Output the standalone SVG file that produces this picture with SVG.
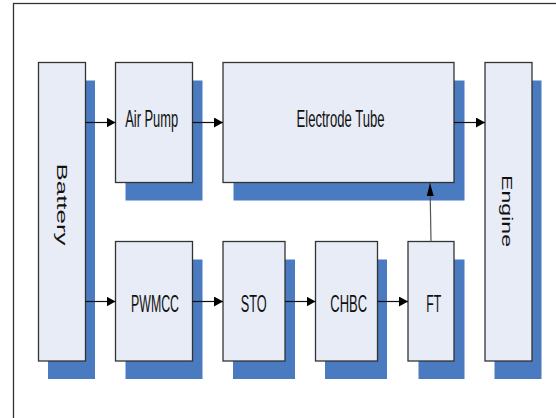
<svg xmlns="http://www.w3.org/2000/svg" width="556" height="418" viewBox="0 0 556 418">
<style>
.box{fill:#E7ECF6;stroke:#333;stroke-width:1.3}
.sh{fill:#4A7AC0}
.lbl{font-family:"Liberation Sans",Arial,sans-serif;font-size:24px;fill:#111;text-anchor:middle}
.vl{font-family:"Liberation Sans",Arial,sans-serif;font-size:14px;fill:#111;text-anchor:middle}
.ar{stroke:#111;stroke-width:1.2;fill:none;marker-end:url(#ah)}
</style>
<defs>
<marker id="ah" markerUnits="userSpaceOnUse" markerWidth="9" markerHeight="10" viewBox="0 0 9 10" refX="9" refY="5" orient="auto"><path d="M0,0 L9,5 L0,10 z" fill="#000"/></marker>
<marker id="ah2" markerUnits="userSpaceOnUse" markerWidth="13" markerHeight="8" viewBox="0 0 13 8" refX="13" refY="4" orient="auto"><path d="M0,0.5 L13,4 L0,7.5 z" fill="#000"/></marker>
</defs>
<rect x="13.5" y="3.5" width="600" height="500" fill="#fff" stroke="#333" stroke-width="1.3"/>
<g id="battery"><rect class="sh" x="48" y="80.5" width="47" height="298.5"/><rect class="box" x="38.5" y="62.5" width="47" height="298.5"/><text class="vl" transform="translate(57,204.5) rotate(90)" textLength="82" lengthAdjust="spacingAndGlyphs">Battery</text></g>
<g id="airpump"><rect class="sh" x="125.5" y="80.5" width="77" height="120"/><rect class="box" x="115.5" y="62.5" width="77" height="120"/><text class="lbl" x="151.7" y="127.3" textLength="53" lengthAdjust="spacingAndGlyphs">Air Pump</text></g>
<g id="electrode"><rect class="sh" x="233.5" y="80.5" width="231" height="120"/><rect class="box" x="223" y="62.5" width="231" height="120"/><text class="lbl" x="340.5" y="127.3" textLength="88" lengthAdjust="spacingAndGlyphs">Electrode Tube</text></g>
<g id="engine"><rect class="sh" x="494.5" y="80.5" width="47" height="298.5"/><rect class="box" x="485" y="62.5" width="47" height="298.5"/><text class="vl" transform="translate(502,211) rotate(90)" textLength="72" lengthAdjust="spacingAndGlyphs">Engine</text></g>
<g id="pwmcc"><rect class="sh" x="125.5" y="259.5" width="77" height="119.5"/><rect class="box" x="115.5" y="241.5" width="77" height="119.5"/><text class="lbl" x="155" y="311.7" textLength="48" lengthAdjust="spacingAndGlyphs">PWMCC</text></g>
<g id="sto"><rect class="sh" x="233" y="259.5" width="62" height="119.5"/><rect class="box" x="223" y="241.5" width="62" height="119.5"/><text class="lbl" x="253.7" y="311.7" textLength="26" lengthAdjust="spacingAndGlyphs">STO</text></g>
<g id="chbc"><rect class="sh" x="325" y="259.5" width="62" height="119.5"/><rect class="box" x="315.5" y="241.5" width="62" height="119.5"/><text class="lbl" x="348.7" y="311.7" textLength="36.7" lengthAdjust="spacingAndGlyphs">CHBC</text></g>
<g id="ft"><rect class="sh" x="418.5" y="259.5" width="46" height="119.5"/><rect class="box" x="408" y="241.5" width="46" height="119.5"/><text class="lbl" x="433.8" y="311.7" textLength="15" lengthAdjust="spacingAndGlyphs">FT</text></g>
<g id="connectors">
<path class="ar" d="M85.5,122.5 H115.5"/>
<path class="ar" d="M192.5,122.5 H223"/>
<path class="ar" d="M454,122.5 H485"/>
<path class="ar" d="M85.5,301.5 H115.5"/>
<path class="ar" d="M192.5,301.5 H223"/>
<path class="ar" d="M285,301.5 H315.5"/>
<path class="ar" d="M377.5,301.5 H408"/>
<path d="M431,241.5 L430,183" stroke="#555" stroke-width="1.2" fill="none" marker-end="url(#ah2)"/>
</g>
</svg>
